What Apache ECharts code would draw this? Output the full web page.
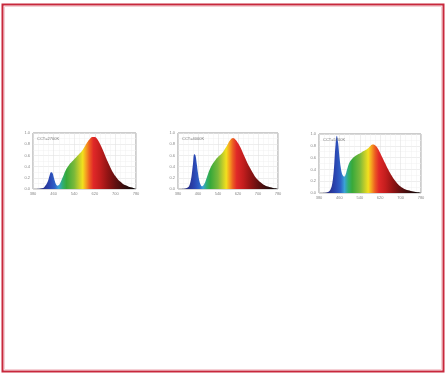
<!DOCTYPE html>
<html><head><meta charset="utf-8">
<script src="https://cdn.jsdelivr.net/npm/echarts@6/dist/echarts.min.js"></script>
<style>html,body{margin:0;padding:0;background:#fff}#c{width:445px;height:374px}</style>
</head><body><div id="c"></div>
<script>
const wavelengths = [380,390,400,410,420,425,430,435,440,445,450,455,460,465,470,475,480,485,490,500,510,520,530,540,550,560,570,580,590,600,610,620,630,640,650,660,670,680,690,700,710,720,730,740,750,760,770,780];
const spectrumA = [0,0,0.005,0.01,0.02,0.04,0.07,0.11,0.17,0.25,0.30,0.29,0.22,0.14,0.08,0.06,0.07,0.10,0.15,0.26,0.36,0.43,0.48,0.53,0.58,0.63,0.68,0.75,0.83,0.89,0.93,0.93,0.89,0.81,0.71,0.60,0.49,0.39,0.30,0.23,0.17,0.13,0.09,0.065,0.045,0.03,0.02,0.01];
const spectrumB = [0,0,0.005,0.01,0.03,0.06,0.13,0.26,0.45,0.62,0.60,0.45,0.28,0.15,0.08,0.05,0.06,0.09,0.14,0.27,0.38,0.46,0.52,0.57,0.61,0.66,0.73,0.81,0.88,0.91,0.88,0.82,0.74,0.64,0.54,0.44,0.36,0.28,0.21,0.16,0.12,0.085,0.06,0.045,0.03,0.02,0.015,0.01];
const spectrumC = [0,0,0.005,0.01,0.03,0.06,0.12,0.25,0.50,0.82,0.97,0.85,0.62,0.44,0.33,0.29,0.28,0.32,0.40,0.52,0.58,0.62,0.65,0.67,0.70,0.72,0.75,0.79,0.82,0.81,0.76,0.68,0.59,0.50,0.41,0.33,0.26,0.20,0.15,0.11,0.08,0.06,0.045,0.035,0.025,0.018,0.012,0.008];
const chartLabels = ['CCT=2700K','CCT=4000K','CCT=5700K'];
const xTickLabels = ['380','460','540','620','700','780'];
const yTickLabels = ['0.0','0.2','0.4','0.6','0.8','1.0'];

const series = [spectrumA, spectrumB, spectrumC];
const grids = [
  {left:33, top:133, width:103, height:56},
  {left:178, top:133, width:100, height:56},
  {left:319, top:134, width:102, height:59}
];
const stops = [
  [380,'#1c1a55'],[420,'#27308c'],[445,'#2a46b2'],[465,'#2f62c8'],[480,'#3aa2d6'],
  [495,'#2fae72'],[510,'#38a93a'],[540,'#7ab93a'],[560,'#c5cf2a'],[573,'#f2e01e'],
  [586,'#f5a020'],[600,'#ec5a22'],[615,'#e02828'],[640,'#c41e1e'],[670,'#921414'],
  [700,'#621010'],[740,'#2e0c0c'],[780,'#000000']
].map(s => ({offset:(s[0]-380)/400, color:s[1]}));

const chart = echarts.init(document.getElementById('c'), null, {renderer:'canvas'});
const opt = {
  animation:false,
  backgroundColor:'#ffffff',
  grid: grids.map(g => Object.assign({show:true, borderColor:'#9a9a9a', borderWidth:1, backgroundColor:'#fff'}, g)),
  xAxis: grids.map((g,i) => ({
    type:'value', gridIndex:i, min:380, max:780, interval:80,
    axisLine:{show:false}, axisTick:{show:false},
    axisLabel:{fontSize:4, color:'#888', margin:3, formatter:(v)=>{const k=Math.round((v-380)/80);return xTickLabels[k]||'';}},
    splitLine:{show:true, lineStyle:{color:'#e2e2e2', width:0.6}},
    minorTick:{show:false, splitNumber:4},
    minorSplitLine:{show:true, lineStyle:{color:'#f0f0f0', width:0.5}}
  })),
  yAxis: grids.map((g,i) => ({
    type:'value', gridIndex:i, min:0, max:1, interval:0.2,
    axisLine:{show:false}, axisTick:{show:false},
    axisLabel:{fontSize:4, color:'#888', margin:3, formatter:(v)=>yTickLabels[Math.round(v/0.2)]||''},
    splitLine:{show:true, lineStyle:{color:'#e2e2e2', width:0.6}},
    minorTick:{show:false, splitNumber:2},
    minorSplitLine:{show:true, lineStyle:{color:'#f0f0f0', width:0.5}}
  })),
  series: series.map((arr,i) => ({
    type:'line', xAxisIndex:i, yAxisIndex:i, smooth:0.4, showSymbol:false,
    lineStyle:{width:0},
    areaStyle:{opacity:1, color:new echarts.graphic.LinearGradient(0,0,1,0,stops)},
    data: wavelengths.map((w,k)=>[w,arr[k]])
  })),
  graphic: [
    {type:'rect', shape:{x:2.5,y:4.5,width:441,height:367}, style:{fill:'none', stroke:'#c8283c', lineWidth:2}, silent:true, z:100},
    {type:'rect', shape:{x:4.5,y:6.5,width:437,height:363}, style:{fill:'none', stroke:'#f2c4ca', lineWidth:0.8}, silent:true, z:100}
  ].concat(grids.map((g,i)=>({
    type:'text', left:g.left+4, top:g.top+4, z:100,
    style:{text:chartLabels[i], fontSize:4, fill:'#777', fontFamily:'Liberation Sans'}
  })))
};
chart.setOption(opt);
</script></body></html>
